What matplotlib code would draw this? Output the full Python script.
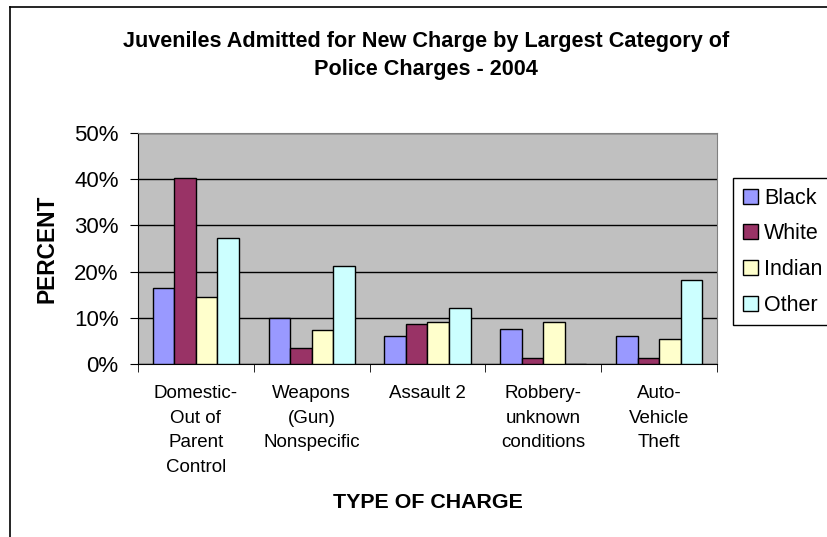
import numpy as np
import matplotlib.pyplot as plt
from matplotlib.lines import Line2D

plt.rcParams['font.family'] = ['Liberation Sans', 'DejaVu Sans']

categories = ["Domestic-\nOut of\nParent\nControl", "Weapons\n(Gun)\nNonspecific",
              "Assault 2", "Robbery-\nunknown\nconditions", "Auto-\nVehicle\nTheft"]
black = [16.5, 9.9, 6.1, 7.6, 6.1]
white = [40.3, 3.5, 8.7, 1.4, 1.4]
indian = [14.4, 7.4, 9.0, 9.0, 5.5]
other = [27.3, 21.3, 12.1, 0.0, 18.1]

series = [("Black", black, "#9999FF"), ("White", white, "#993366"),
          ("Indian", indian, "#FFFFCC"), ("Other", other, "#CCFFFF")]

W, H = 828, 537
fig = plt.figure(figsize=(W / 100, H / 100), dpi=100)
ax = fig.add_axes([138 / W, 1 - 364 / H, (717 - 138) / W, (364 - 133) / H])
ax.set_facecolor("#C0C0C0")

x = np.arange(len(categories))
bw = 0.186
for i, (name, vals, col) in enumerate(series):
    ax.bar(x + (i - 1.5) * bw, vals, bw, color=col, edgecolor="black",
           linewidth=1, label=name, zorder=3)

ax.set_xlim(-0.5, len(categories) - 0.5)
ax.set_ylim(0, 50)
ax.set_yticks(np.arange(0, 51, 10))
ax.set_yticklabels([f"{v}%" for v in range(0, 51, 10)], fontsize=16)
ax.yaxis.grid(True, color="black", linewidth=1, zorder=1)
ax.set_axisbelow(True)

ax.set_xticks(x)
ax.set_xticklabels(categories, fontsize=13.5, linespacing=1.6, va="top")
ax.tick_params(axis="x", which="major", length=0, pad=15)
ax.set_xticks(np.arange(-0.5, len(categories), 1), minor=True)
ax.tick_params(axis="x", which="minor", length=6, direction="out", color="black")
ax.tick_params(axis="y", length=6, direction="out", pad=8)

for s in ("top", "right"):
    ax.spines[s].set_color("#808080")
for s in ("left", "bottom"):
    ax.spines[s].set_color("black")

ax.set_ylabel("PERCENT", fontsize=16.4, fontweight="bold", labelpad=11)
fig.text(428 / W, 1 - 503 / H, "TYPE OF CHARGE", fontsize=15.4, fontweight="bold",
         ha="center", va="center")
fig.text(426 / W, 1 - 55.5 / H,
         "Juveniles Admitted for New Charge by Largest Category of\nPolice Charges - 2004",
         fontsize=15.6, fontweight="bold", ha="center", va="center", linespacing=1.5)

leg = fig.legend(loc="upper left", bbox_to_anchor=(733 / W, 1 - 178 / H),
                 borderaxespad=0, fancybox=False, edgecolor="black", fontsize=15.5,
                 handlelength=0.7, handleheight=0.7, handletextpad=0.3,
                 labelspacing=0.68, borderpad=0.45, framealpha=1)
leg.get_frame().set_linewidth(1)

fig.add_artist(Line2D([10 / W, 10 / W], [0, 1 - 7 / H], color="black", linewidth=1.2))
fig.add_artist(Line2D([10 / W, 1], [1 - 7 / H, 1 - 7 / H], color="black", linewidth=1.2))

fig.savefig("out.png", dpi=100)
